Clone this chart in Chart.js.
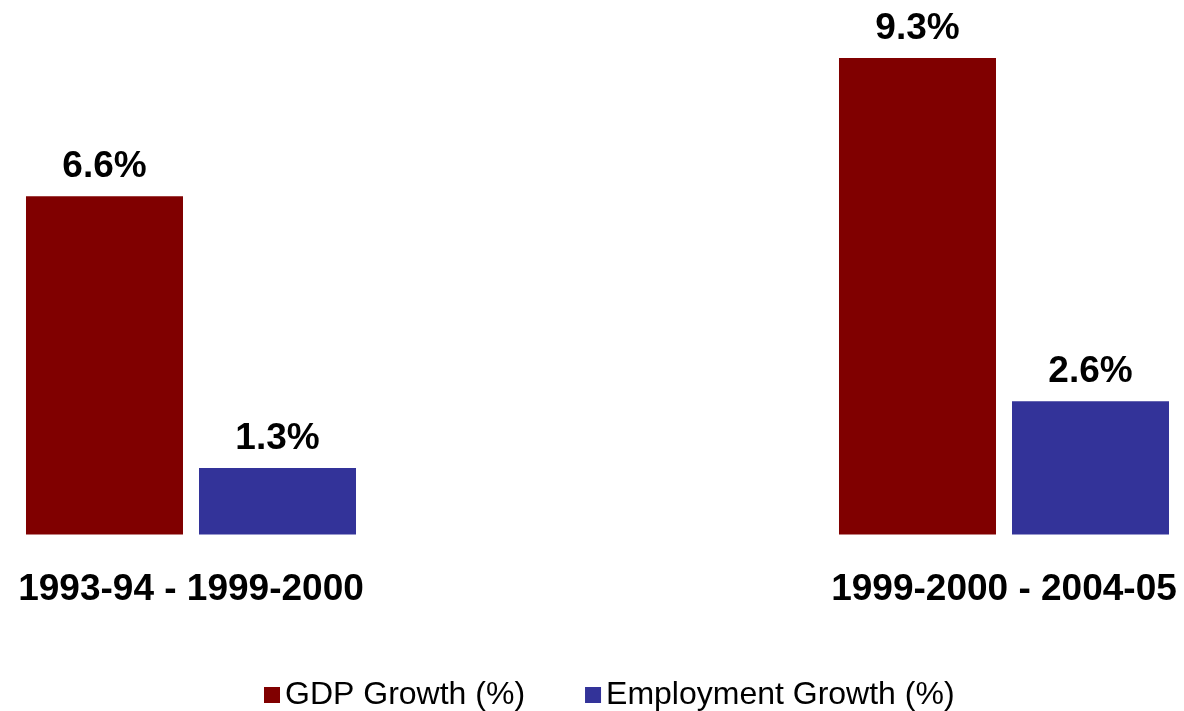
<!DOCTYPE html>
<html>
<head>
<meta charset="utf-8">
<title>GDP and Employment Growth</title>
<script src="https://cdn.jsdelivr.net/npm/chart.js@4/dist/chart.umd.min.js"></script>
<style>
  html, body { margin: 0; padding: 0; background: #ffffff; }
  #c { display: block; }
</style>
</head>
<body>
<canvas id="c" width="1184" height="711"></canvas>
<script>
// Periods compared and average annual growth rates (%)
const periods = ['1993-94 - 1999-2000', '1999-2000 - 2004-05'];
const gdpGrowth = [6.6, 9.3];
const employmentGrowth = [1.3, 2.6];
const seriesNames = ['GDP Growth (%)', 'Employment Growth (%)'];
const seriesColors = ['#800000', '#333399'];

const FONT = '"Liberation Sans", Arial, Helvetica, sans-serif';

// Value labels printed above each bar
const valueLabels = {
  id: 'valueLabels',
  afterDatasetsDraw(chart) {
    const ctx = chart.ctx;
    ctx.save();
    ctx.font = 'bold 37px ' + FONT;
    ctx.fillStyle = '#000000';
    ctx.textAlign = 'center';
    ctx.textBaseline = 'alphabetic';
    chart.data.datasets.forEach((ds, i) => {
      chart.getDatasetMeta(i).data.forEach((bar, j) => {
        ctx.fillText(ds.data[j].toFixed(1) + '%', bar.x, bar.y - 19);
      });
    });
    ctx.restore();
  }
};

// Compact legend row along the bottom edge
const bottomLegend = {
  id: 'bottomLegend',
  afterDraw(chart, args, opts) {
    const ctx = chart.ctx;
    ctx.save();
    ctx.font = '32px ' + FONT;
    ctx.textAlign = 'left';
    ctx.textBaseline = 'alphabetic';
    let x = opts.startX;
    chart.data.datasets.forEach((ds) => {
      ctx.fillStyle = ds.backgroundColor;
      ctx.fillRect(x, opts.boxTop, opts.boxSize, opts.boxSize);
      x += opts.boxSize + opts.boxGap;
      ctx.fillStyle = '#000000';
      ctx.fillText(ds.label, x, opts.baseline);
      x += ctx.measureText(ds.label).width + opts.itemGap;
    });
    ctx.restore();
  }
};

const barStyle = {
  categoryPercentage: 0.4256,
  barPercentage: 0.9075,
  borderWidth: 0,
  clip: false
};

new Chart(document.getElementById('c'), {
  type: 'bar',
  data: {
    labels: periods,
    datasets: [
      Object.assign({ label: seriesNames[0], data: gdpGrowth, backgroundColor: seriesColors[0] }, barStyle),
      Object.assign({ label: seriesNames[1], data: employmentGrowth, backgroundColor: seriesColors[1] }, barStyle)
    ]
  },
  options: {
    responsive: false,
    animation: false,
    layout: { padding: { left: 191, right: 180, top: 22, bottom: 66 } },
    plugins: {
      legend: { display: false },
      tooltip: { enabled: false },
      bottomLegend: { startX: 264, boxTop: 687, boxSize: 16, boxGap: 5, baseline: 704, itemGap: 60 }
    },
    scales: {
      x: {
        offset: false,
        grid: { display: false, drawTicks: false },
        border: { display: false },
        ticks: {
          color: '#000000',
          font: { family: FONT, size: 37, weight: 'bold' },
          padding: 33,
          maxRotation: 0,
          autoSkip: false
        },
        // the layout padding already leaves room for the edge labels
        afterFit(scale) {
          scale.paddingLeft = 0;
          scale.paddingRight = 0;
        }
      },
      y: {
        display: false,
        min: 0,
        max: 10
      }
    }
  },
  plugins: [valueLabels, bottomLegend]
});
</script>
</body>
</html>
